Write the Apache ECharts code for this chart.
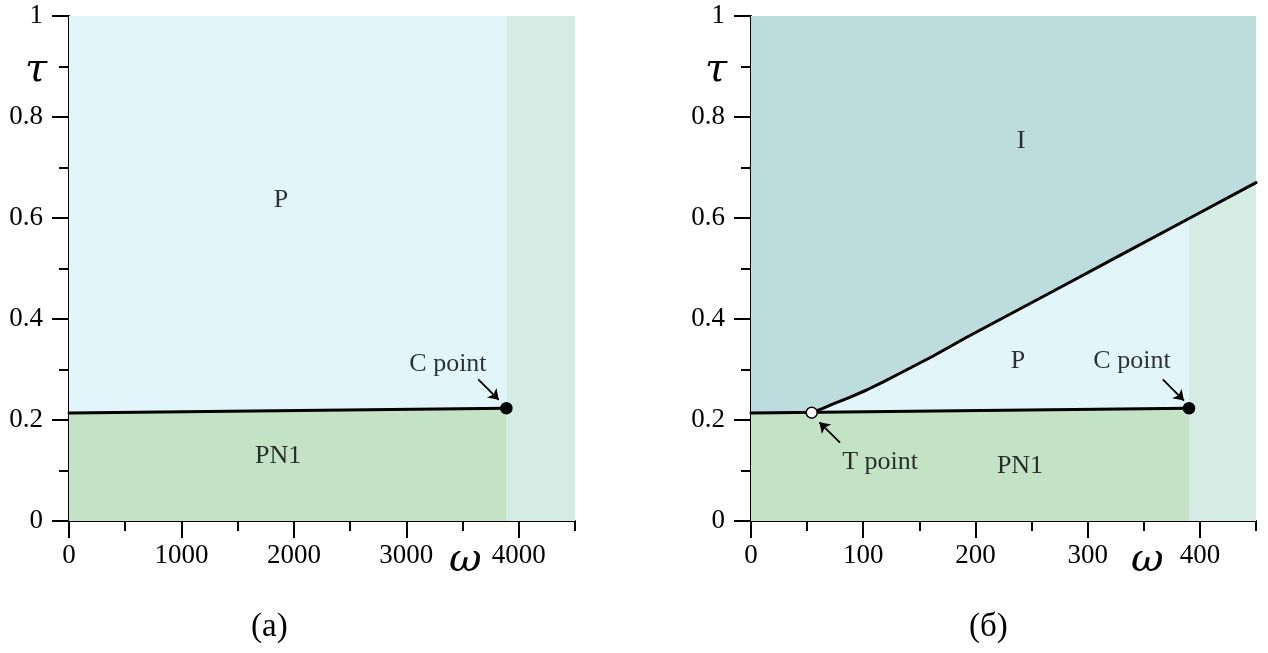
<!DOCTYPE html>
<html>
<head>
<meta charset="utf-8">
<script src="https://cdn.jsdelivr.net/npm/echarts@6/dist/echarts.min.js"></script>
<style>
  html, body { margin: 0; padding: 0; background: #ffffff; }
  #chart { width: 1268px; height: 653px; }
</style>
</head>
<body>
<div id="chart"></div>
<script>
// Tick values
const tauTicks = [0, 0.2, 0.4, 0.6, 0.8, 1];
const omegaTicksA = [0, 1000, 2000, 3000, 4000];
const omegaTicksB = [0, 100, 200, 300, 400];
const omegaMaxA = 4500;
const omegaMaxB = 450;

// Panel (a): PN1 / P boundary ending at the C point
const boundaryA = [[0, 0.214], [3890, 0.2232]];
const cPointA = [3890, 0.2232];

// Panel (б): PN1 boundary, P / I boundary, T and C points
const boundaryB = [[0, 0.214], [390.3, 0.2232]];
const tPointB = [54.1, 0.2145];
const cPointB = [390.3, 0.2232];
const curveB = [
  [54.1, 0.2145], [63.5, 0.2225], [73.3, 0.2317], [88.0, 0.2450],
  [103.1, 0.2594], [117.9, 0.2755], [132.8, 0.2925], [162.4, 0.3267],
  [192.2, 0.3638], [221.9, 0.399], [275.4, 0.4624], [328.8, 0.526],
  [390.3, 0.599], [450, 0.670]
];

const C_BLUE = '#e2f5fb';
const C_GREEN = '#c4e2c6';
const C_LGREEN = '#d4ece3';
const C_TEAL = '#bddcde';
const FONT = '"Liberation Serif", "Times New Roman", serif';
const TICK_FONT = 27;

const chart = echarts.init(document.getElementById('chart'), null, { renderer: 'canvas' });

function majorX(idx, max, ticks) {
  return {
    type: 'value', gridIndex: idx, min: 0, max: max, position: 'bottom',
    axisLine: { show: true, onZero: false, lineStyle: { color: '#000', width: 2 } },
    axisTick: { show: true, length: 17, lineStyle: { color: '#000', width: 2 }, customValues: ticks },
    axisLabel: { show: true, margin: 21, color: '#000', fontFamily: FONT, fontSize: TICK_FONT,
      customValues: ticks, formatter: v => String(v) },
    splitLine: { show: false }
  };
}
function minorX(idx, max, step) {
  return {
    type: 'value', gridIndex: idx, min: 0, max: max, interval: step, position: 'bottom',
    axisLine: { show: false, onZero: false },
    axisTick: { show: true, length: 10, lineStyle: { color: '#000', width: 2 } },
    axisLabel: { show: false },
    splitLine: { show: false }
  };
}
function majorY(idx) {
  return {
    type: 'value', gridIndex: idx, min: 0, max: 1, interval: 0.2, position: 'left',
    axisLine: { show: true, onZero: false, lineStyle: { color: '#000', width: 2 } },
    axisTick: { show: true, length: 17, lineStyle: { color: '#000', width: 2 } },
    axisLabel: { show: true, margin: 26, color: '#000', fontFamily: FONT, fontSize: TICK_FONT,
      formatter: v => String(Math.round(v * 10) / 10) },
    splitLine: { show: false }
  };
}
function minorY(idx) {
  return {
    type: 'value', gridIndex: idx, min: 0, max: 1, interval: 0.1, position: 'left',
    axisLine: { show: false, onZero: false },
    axisTick: { show: true, length: 10, lineStyle: { color: '#000', width: 2 } },
    axisLabel: { show: false },
    splitLine: { show: false }
  };
}

function rect(x0, y0, x1, y1, color) {
  return [{ coord: [x0, y0], itemStyle: { color: color, opacity: 1 } }, { coord: [x1, y1] }];
}

function areaSeries(xi, yi, data, color, z) {
  return {
    type: 'line', xAxisIndex: xi, yAxisIndex: yi, data: data, z: z,
    showSymbol: false, silent: true, animation: false,
    lineStyle: { width: 0 }, areaStyle: { color: color, opacity: 1, origin: 'start' }
  };
}
function lineSeries(xi, yi, data) {
  return {
    type: 'line', xAxisIndex: xi, yAxisIndex: yi, data: data, z: 5,
    showSymbol: false, silent: true, animation: false,
    lineStyle: { color: '#000', width: 3, join: 'round', cap: 'round' }
  };
}
function textSeries(xi, yi, items) {
  return {
    type: 'scatter', xAxisIndex: xi, yAxisIndex: yi, z: 8, silent: true, animation: false,
    symbolSize: 0,
    data: items.map(it => ({ value: it.at, label: { formatter: it.text } })),
    label: { show: true, position: 'inside', color: '#000', fontFamily: FONT, fontSize: 26 }
  };
}
function arrowSeries(xi, yi, segs) {
  return {
    type: 'lines', coordinateSystem: 'cartesian2d', xAxisIndex: xi, yAxisIndex: yi,
    z: 8, silent: true, animation: false,
    symbol: ['none', 'arrow'], symbolSize: 10,
    lineStyle: { color: '#000', width: 1.8, opacity: 1 },
    data: segs.map(s => ({ coords: s }))
  };
}
function pointSeries(xi, yi, pt, fill) {
  return {
    type: 'scatter', xAxisIndex: xi, yAxisIndex: yi, z: 9, silent: true, animation: false,
    symbolSize: 11,
    itemStyle: { color: fill, opacity: 1, borderColor: '#000', borderWidth: 1.5 },
    data: [pt]
  };
}

const AX_FONT = 'italic 40px "DejaVu Serif", serif';

const option = {
  backgroundColor: '#ffffff',
  animation: false,
  grid: [
    { left: 69, top: 16, width: 506, height: 505 },
    { left: 751, top: 16, width: 505, height: 505 }
  ],
  xAxis: [
    majorX(0, omegaMaxA, omegaTicksA), minorX(0, omegaMaxA, 500),
    majorX(1, omegaMaxB, omegaTicksB), minorX(1, omegaMaxB, 50)
  ],
  yAxis: [majorY(0), minorY(0), majorY(1), minorY(1)],
  graphic: [
    { type: 'text', left: 25, top: 51, style: { text: 'τ', font: AX_FONT, fill: '#000' } },
    { type: 'text', left: 705, top: 51, style: { text: 'τ', font: AX_FONT, fill: '#000' } },
    { type: 'text', left: 449, top: 541, style: { text: 'ω', font: AX_FONT, fill: '#000' } },
    { type: 'text', left: 1131, top: 541, style: { text: 'ω', font: AX_FONT, fill: '#000' } },
    { type: 'text', left: 251, top: 611, style: { text: '(а)', font: '33px ' + FONT, fill: '#000' } },
    { type: 'text', left: 969, top: 611, style: { text: '(б)', font: '33px ' + FONT, fill: '#000' } }
  ],
  series: [
    // Panel (a) background regions
    {
      type: 'line', xAxisIndex: 0, yAxisIndex: 0, data: [], z: 1, silent: true,
      markArea: { silent: true, data: [
        rect(0, 0, cPointA[0], 1, C_BLUE),
        rect(cPointA[0], 0, omegaMaxA, 1, C_LGREEN)
      ] }
    },
    areaSeries(0, 0, boundaryA, C_GREEN, 2),
    lineSeries(0, 0, boundaryA),
    pointSeries(0, 0, cPointA, '#000'),
    arrowSeries(0, 0, [[[3640, 0.2806], [3822, 0.240]]]),
    textSeries(0, 0, [
      { text: 'P', at: [1885, 0.636] },
      { text: 'PN1', at: [1859, 0.129] },
      { text: 'C point', at: [3370, 0.311] }
    ]),

    // Panel (б) background regions
    {
      type: 'line', xAxisIndex: 2, yAxisIndex: 2, data: [], z: 1, silent: true,
      markArea: { silent: true, data: [rect(0, 0, omegaMaxB, 1, C_TEAL)] }
    },
    areaSeries(2, 2, curveB.filter(p => p[0] <= cPointB[0]), C_BLUE, 2),
    areaSeries(2, 2, curveB.filter(p => p[0] >= cPointB[0]), C_LGREEN, 2),
    areaSeries(2, 2, boundaryB, C_GREEN, 3),
    lineSeries(2, 2, boundaryB),
    lineSeries(2, 2, curveB),
    pointSeries(2, 2, cPointB, '#000'),
    pointSeries(2, 2, tPointB, '#fff'),
    arrowSeries(2, 2, [
      [[366.9, 0.2806], [385.8, 0.2385]],
      [[79.3, 0.155], [61.0, 0.1955]]
    ]),
    textSeries(2, 2, [
      { text: 'I', at: [240.6, 0.752] },
      { text: 'P', at: [237.9, 0.317] },
      { text: 'C point', at: [339.5, 0.317] },
      { text: 'T point', at: [115, 0.117] },
      { text: 'PN1', at: [239.7, 0.109] }
    ])
  ]
};

chart.setOption(option);
</script>
</body>
</html>
